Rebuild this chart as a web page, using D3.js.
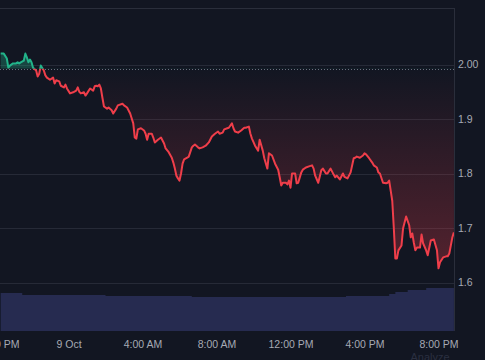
<!DOCTYPE html>
<html><head><meta charset="utf-8">
<script src="https://cdn.jsdelivr.net/npm/d3@7"></script>
<style>html,body{margin:0;padding:0;background:#121622;} svg{display:block}</style>
</head><body><svg id="c" width="485" height="360"></svg>
<script>
// minutes relative to 9 Oct 00:00
const timeMin = [-220,-210,-200,-195,-190,-180,-170,-165,-160,-155,-145,-140,-135,-130,-125,-120,-115,-105,-100,-95,-90,-80,-75,-70,-60,-50,-45,-40,-30,-25,-15,-10,-5,5,15,25,30,35,40,50,55,60,70,80,85,90,95,100,105,110,115,125,130,140,145,155,160,175,180,190,200,210,
215,220,225,235,245,250,255,260,270,275,280,290,300,310,315,325,335,340,345,350,355,360,365,370,375,385,390,400,405,410,420,425,435,445,455,465,475,485,490,500,505,515,520,530,535,540,550,560,570,575,585,590,
595,605,615,620,630,635,645,650,660,670,680,685,690,695,705,710,715,720,725,735,740,745,755,760,770,780,790,795,800,810,820,825,835,840,850,860,865,870,880,890,895,905,915,925,930,935,945,955,960,965,975,985,990,1000,1005,1010,1020,1030,1035,1040,1050,1055,1060,1065,1070,1080,1085,1095,1105,1110,1115,1120,1125,1130,1140,1145,1150,1160,1165,1175,1185,1195,1200,1205,1215,1225,1230,1235,1245,1250];
const price = [2.020,2.020,2.011,1.994,1.998,2.002,2.002,2.004,2.002,2.004,2.007,2.020,2.013,2.004,2.009,2.004,1.994,1.989,1.978,1.983,1.998,1.989,1.980,1.976,1.972,1.976,1.965,1.971,1.969,1.961,1.958,1.963,1.956,1.947,1.949,1.952,1.958,1.950,1.947,1.949,1.943,1.947,1.956,1.952,1.960,1.961,1.960,1.963,1.956,1.939,1.923,1.919,1.921,1.916,1.910,1.919,1.925,1.928,1.925,1.921,1.910,1.892,
1.866,1.864,1.881,1.883,1.879,1.873,1.862,1.873,1.873,1.866,1.857,1.862,1.866,1.855,1.846,1.839,1.829,1.820,1.809,1.796,1.791,1.787,1.800,1.818,1.826,1.829,1.831,1.848,1.851,1.853,1.848,1.846,1.848,1.851,1.857,1.868,1.873,1.877,1.873,1.875,1.881,1.883,1.884,1.892,1.883,1.877,1.875,1.879,1.884,1.884,1.886,1.873,
1.864,1.851,1.842,1.862,1.842,1.828,1.809,1.837,1.833,1.818,1.807,1.793,1.778,1.783,1.783,1.780,1.787,1.774,1.800,1.800,1.782,1.783,1.802,1.807,1.811,1.813,1.815,1.809,1.796,1.783,1.806,1.809,1.800,1.800,1.809,1.798,1.793,1.796,1.789,1.800,1.794,1.791,1.802,1.828,1.829,1.831,1.829,1.833,1.837,1.835,1.828,1.820,1.815,1.811,1.802,1.800,1.783,1.782,1.783,1.787,1.750,1.701,1.644,1.644,1.659,1.668,1.699,1.721,1.705,1.683,1.690,1.673,1.659,1.664,1.664,1.688,1.672,1.659,1.650,1.677,1.679,1.659,1.626,1.637,1.646,1.648,1.648,1.653,1.683,1.692];
const volTime = [-220,-160,-150,60,120,400,700,900,1020,1040,1060,1100,1160,1250];
const volValue = [38,38,36,36,35,34,34,35,35,37,39,41,43,45];
const baselineValue = 1.992;
const yTicks = [2.0,1.9,1.8,1.7,1.6];
const yTickLabels = ["2.00","1.9","1.8","1.7","1.6"];
const xTickMin = [-240,0,240,480,720,960,1200];
const xTickLabels = ["8:00 PM","9 Oct","4:00 AM","8:00 AM","12:00 PM","4:00 PM","8:00 PM"];

const t0 = new Date(2023,9,9,0,0);
const toDate = m => new Date(t0.getTime()+m*60000);
const data = timeMin.map((m,i)=>({t:toDate(m), v:price[i]}));
const vol = volTime.map((m,i)=>({t:toDate(m), v:volValue[i]}));

const W=485,H=360, plotR=454, plotT=8, plotB=331;
const x = d3.scaleTime().domain([toDate(0), toDate(1200)]).range([68.5, 438.5]);
const y = d3.scaleLinear().domain([1.6,2.0]).range([282.5,64.5]);
const yv = d3.scaleLinear().domain([0,50]).range([331,281]);
const yb = y(baselineValue);

const svg = d3.select("#c");
svg.append("rect").attr("width",W).attr("height",H).attr("fill","#121622");
const defs = svg.append("defs");
defs.append("clipPath").attr("id","plot").append("rect").attr("x",0).attr("y",plotT).attr("width",plotR).attr("height",plotB-plotT);
defs.append("clipPath").attr("id","above").append("rect").attr("x",0).attr("y",plotT).attr("width",plotR).attr("height",yb-plotT);
defs.append("clipPath").attr("id","below").append("rect").attr("x",0).attr("y",yb).attr("width",plotR).attr("height",plotB-yb);
const gG = defs.append("linearGradient").attr("id","gG").attr("gradientUnits","userSpaceOnUse").attr("x1",0).attr("x2",0).attr("y1",plotT).attr("y2",yb);
gG.append("stop").attr("offset",0).attr("stop-color","#22b38a").attr("stop-opacity",0.5);
gG.append("stop").attr("offset",1).attr("stop-color","#22b38a").attr("stop-opacity",0.28);
const gR = defs.append("linearGradient").attr("id","gR").attr("gradientUnits","userSpaceOnUse").attr("x1",0).attr("x2",0).attr("y1",yb).attr("y2",282);
gR.append("stop").attr("offset",0).attr("stop-color","#ef3e4a").attr("stop-opacity",0.0);
gR.append("stop").attr("offset",1).attr("stop-color","#ef3e4a").attr("stop-opacity",0.32);

// grid
const grid = svg.append("g");
grid.append("line").attr("x1",0).attr("x2",plotR).attr("y1",plotT+0.5).attr("y2",plotT+0.5).attr("stroke","#2a2e3b");
grid.selectAll("line.g").data(yTicks).enter().append("line").attr("class","g")
  .attr("x1",0).attr("x2",plotR).attr("y1",d=>Math.round(y(d))+0.5).attr("y2",d=>Math.round(y(d))+0.5)
  .attr("stroke","#262a37");
grid.append("line").attr("x1",plotR+0.5).attr("x2",plotR+0.5).attr("y1",plotT).attr("y2",plotB).attr("stroke","#2a2e3b");

// volume
svg.append("path").datum(vol).attr("clip-path","url(#plot)")
  .attr("d", d3.area().x(d=>x(d.t)).y0(plotB).y1(d=>yv(d.v)).curve(d3.curveStepAfter))
  .attr("fill","#262b50");

// fills
const area = d3.area().x(d=>x(d.t)).y0(yb).y1(d=>y(d.v));
svg.append("path").datum(data).attr("clip-path","url(#above)").attr("d",area).attr("fill","url(#gG)");
svg.append("path").datum(data).attr("clip-path","url(#below)").attr("d",area).attr("fill","url(#gR)");

// baseline
svg.append("line").attr("x1",0).attr("x2",plotR).attr("y1",Math.round(yb)+0.5).attr("y2",Math.round(yb)+0.5)
  .attr("stroke","#6b7080").attr("stroke-dasharray","1,2");

// lines
const line = d3.line().x(d=>x(d.t)).y(d=>y(d.v));
svg.append("path").datum(data).attr("clip-path","url(#above)").attr("d",line).attr("fill","none").attr("stroke","#22b38a").attr("stroke-width",2).attr("stroke-linejoin","round");
svg.append("path").datum(data).attr("clip-path","url(#below)").attr("d",line).attr("fill","none").attr("stroke","#ef3e4a").attr("stroke-width",2).attr("stroke-linejoin","round");

// axes
const font = "'Liberation Sans', Arial, sans-serif";
const yAxis = d3.axisRight(y).tickValues(yTicks).tickFormat((d,i)=>yTickLabels[i]).tickSize(0).tickPadding(4);
const ya = svg.append("g").attr("transform",`translate(${plotR},0)`).call(yAxis);
ya.select(".domain").remove();
ya.selectAll("text").attr("fill","#a6aab4").attr("font-family",font).attr("font-size","10.5px");

const xAxis = d3.axisBottom(x).tickValues(xTickMin.map(toDate)).tickFormat((d,i)=>xTickLabels[i]).tickSize(0).tickPadding(10);
const xa = svg.append("g").attr("transform",`translate(0,${plotB})`).call(xAxis);
xa.select(".domain").remove();
xa.selectAll("text").attr("fill","#a6aab4").attr("font-family",font).attr("font-size","10.5px")
  .attr("dx",(d,i)=> i===0 ? 5 : 0);

svg.append("text").attr("x",430).attr("y",361).attr("text-anchor","middle").attr("fill","#2a2f40")
  .attr("font-family",font).attr("font-size","11px").text("Analyze");
</script></body></html>
